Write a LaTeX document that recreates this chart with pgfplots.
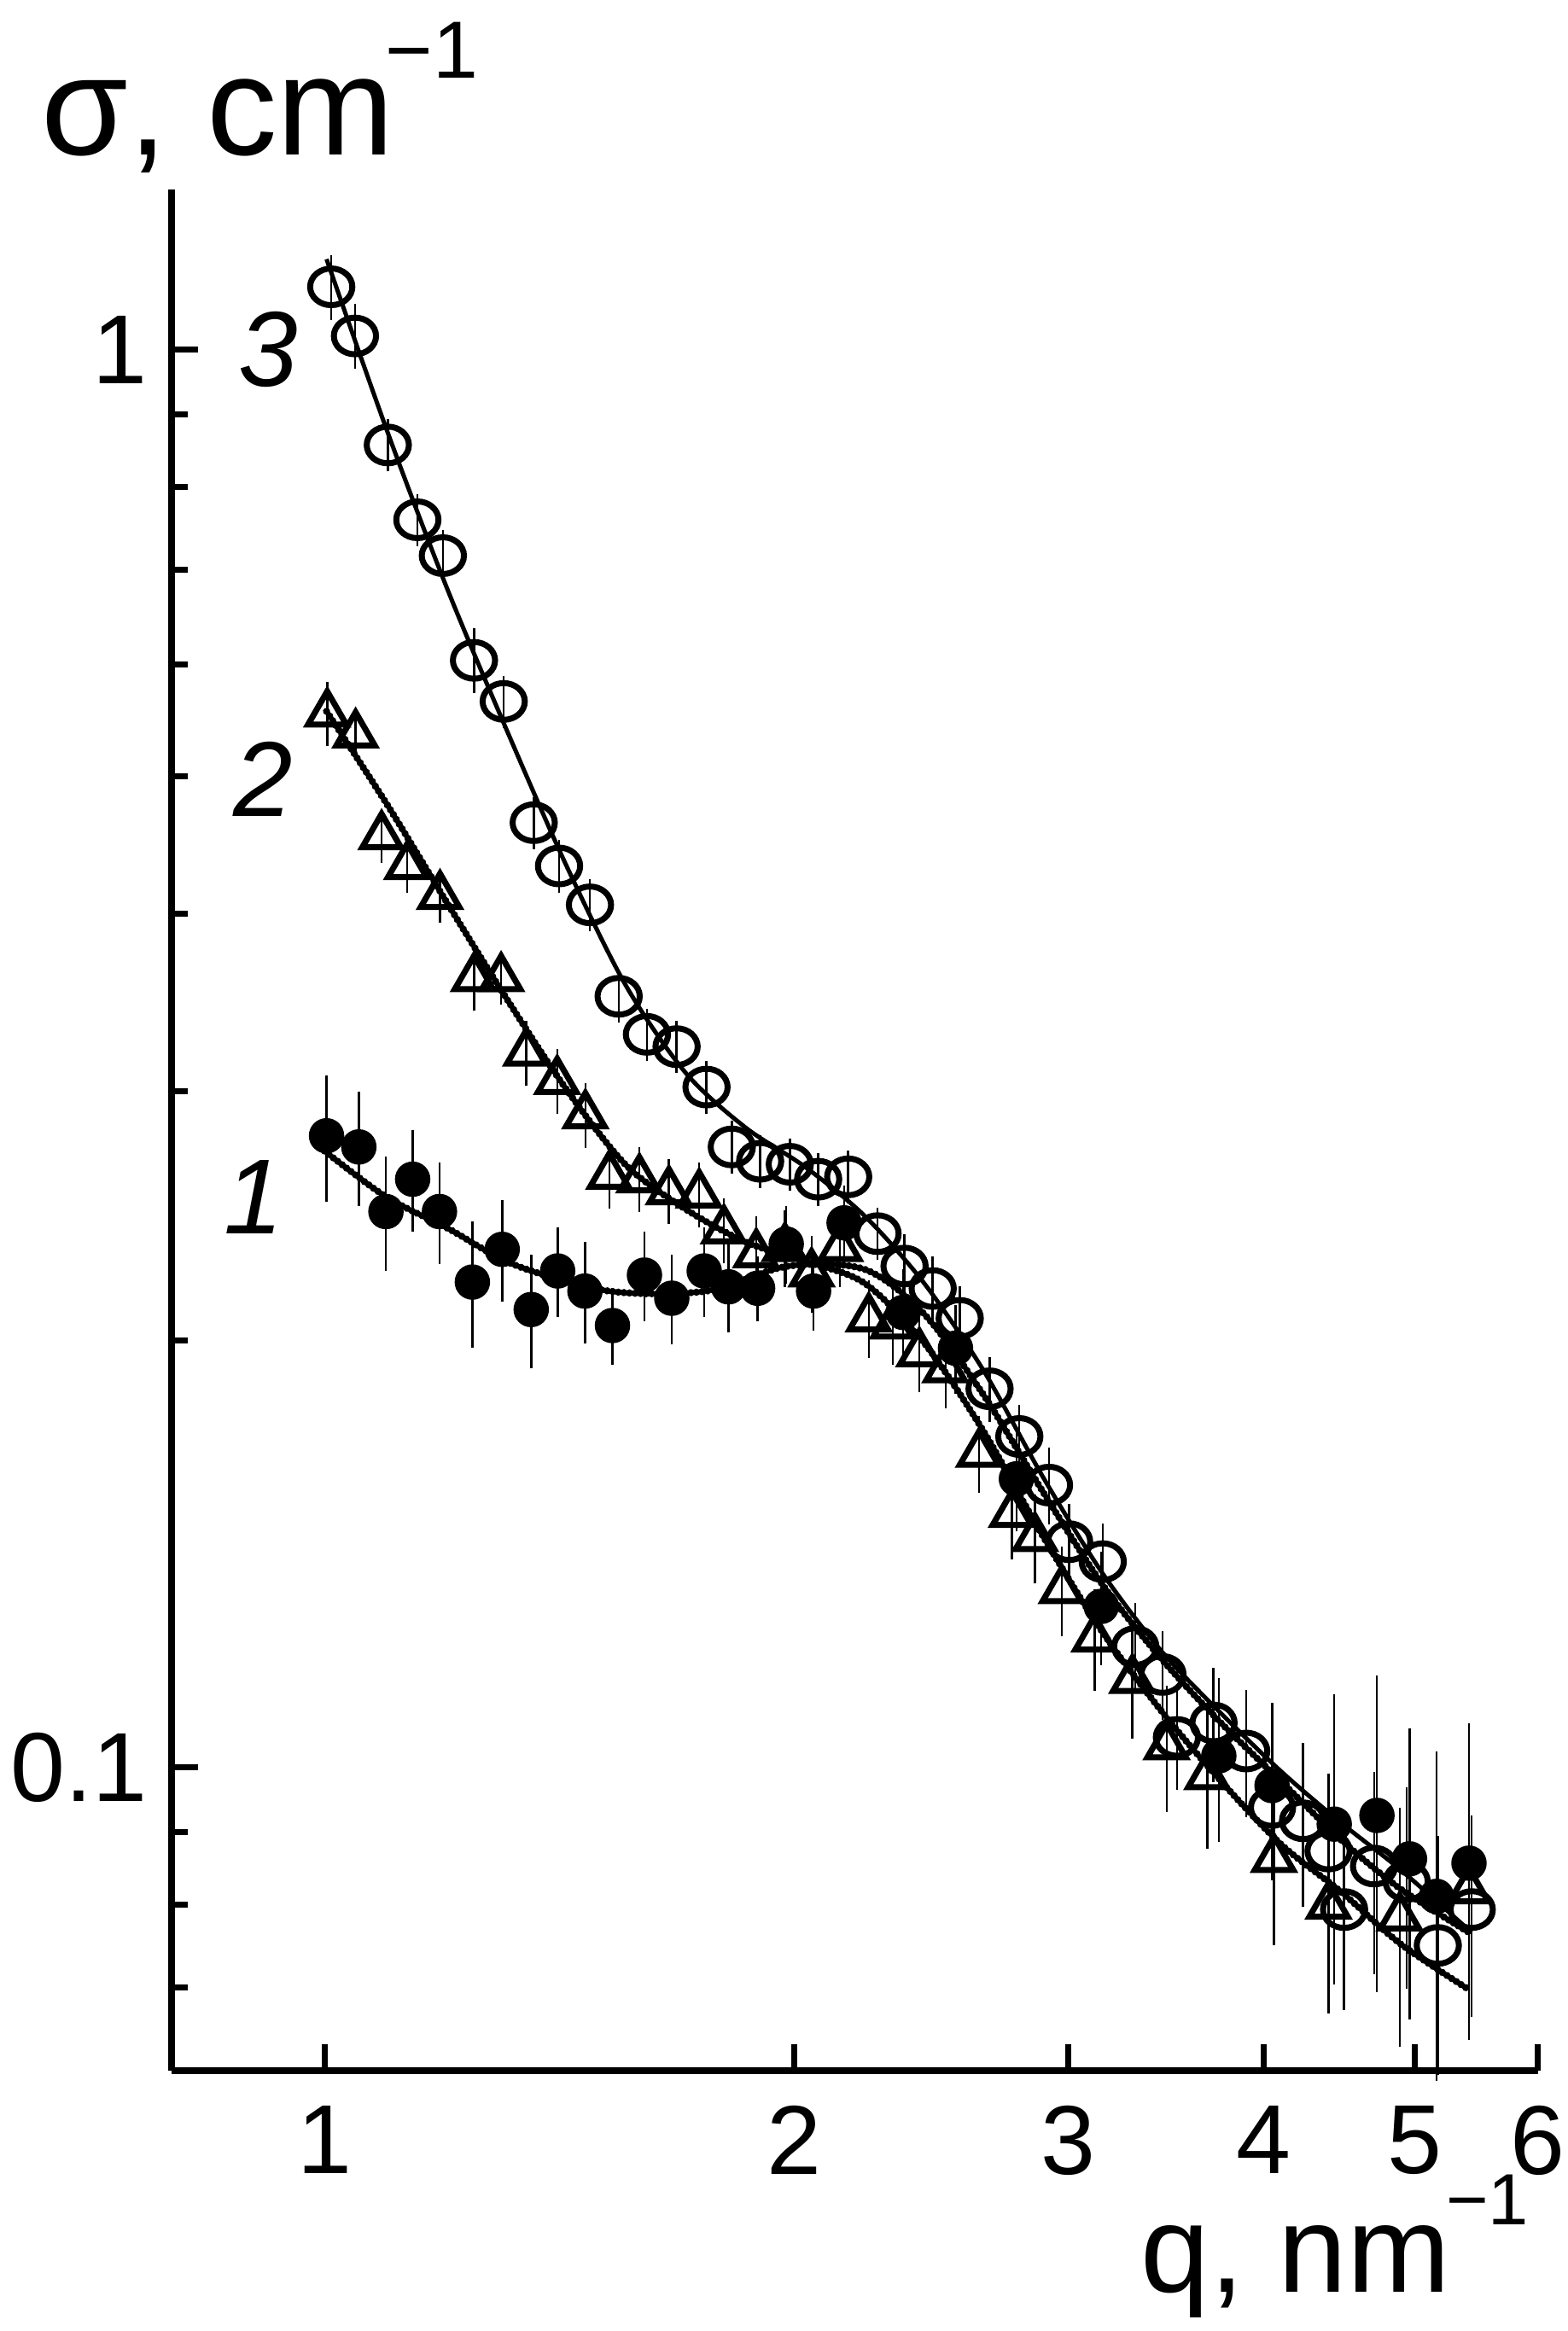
\documentclass[border=0pt]{standalone}
\usepackage{fontspec}
\setmainfont{Liberation Sans}
\setsansfont{Liberation Sans}
\usepackage{pgfplots}
\pgfplotsset{compat=1.18}

\newcommand{\fs}[1]{\fontsize{#1}{#1}\selectfont}

\begin{document}
\begin{tikzpicture}
\begin{axis}[
    at={(0,0)}, anchor=south west,
    scale only axis, width=320.2pt, height=440.8pt,
    xmode=log, ymode=log,
    xmin=0.798, xmax=6, ymin=0.0611, ymax=1.297,
    axis x line*=bottom, axis y line*=left,
    axis line style={line width=1.5pt},
    xtick={1,2,3,4,5,6},
    xticklabels={\mbox{1},\mbox{2},\mbox{3},\mbox{4},\mbox{5},\mbox{6}},
    ytick={0.1,1}, yticklabels={\mbox{0.1},\mbox{1}},
    minor xtick={},
    minor ytick={0.07,0.08,0.09,0.2,0.3,0.4,0.5,0.6,0.7,0.8,0.9},
    tick align=inside,
    major tick length=6.2pt, minor tick length=3.8pt,
    every tick/.style={line width=1.4pt, black},
    xticklabel style={font=\fs{23}, inner sep=0pt, anchor=north, yshift=-8pt},
    yticklabel style={font=\fs{23}, inner sep=0pt, anchor=east, xshift=-5.5pt},
    clip=false,
    error bars/error bar style={line width=0.5pt},
    error bars/error mark options={line width=0.5pt, mark size=1.8pt},
]
% 3: open circles
\addplot[only marks, mark=o, mark size=4.3pt,
    mark options={line width=1.4pt, xscale=1.15},
    error bars/.cd, y dir=both, y explicit relative] coordinates {
(1.010,1.108) +- (0,0.04) (1.046,1.023) +- (0,0.04) (1.098,0.857) +- (0,0.03)
(1.147,0.759) +- (0,0.03) (1.191,0.716) +- (0,0.03) (1.247,0.604) +- (0,0.04)
(1.303,0.565) +- (0,0.03) (1.362,0.464) +- (0,0.03) (1.414,0.4325) +- (0,0.03)
(1.480,0.406) +- (0,0.03) (1.544,0.350) +- (0,0.03) (1.610,0.329) +- (0,0.03)
(1.682,0.3225) +- (0,0.03) (1.758,0.302) +- (0,0.03) (1.825,0.274) +- (0,0.03)
(1.903,0.2677) +- (0,0.03) (1.988,0.2664) +- (0,0.03) (2.073,0.260) +- (0,0.03)
(2.167,0.261) +- (0,0.03) (2.263,0.238) +- (0,0.03) (2.355,0.2258) +- (0,0.04)
(2.455,0.2177) +- (0,0.04) (2.555,0.2074) +- (0,0.04) (2.670,0.1850) +- (0,0.04)
(2.790,0.1712) +- (0,0.04) (2.915,0.1582) +- (0,0.05) (3.003,0.1443) +- (0,0.05)
(3.156,0.1397) +- (0,0.05) (3.311,0.1217) +- (0,0.06) (3.447,0.1163) +- (0,0.06)
(3.521,0.1050) +- (0,0.07) (3.717,0.1075) +- (0,0.08) (3.901,0.1027) +- (0,0.09)
(4.052,0.0937) +- (0,0.10) (4.242,0.0917) +- (0,0.12) (4.405,0.0873) +- (0,0.12)
(4.507,0.0794) +- (0,0.14) (4.711,0.0852) +- (0,0.15) (4.943,0.0831) +- (0,0.15)
(5.176,0.0749) +- (0,0.18) (5.442,0.0794) +- (0,0.15)
};
% 2: open triangles
\addplot[only marks, mark=triangle, mark size=5.2pt,
    mark options={line width=1.4pt},
    error bars/.cd, y dir=both, y explicit relative] coordinates {
(1.004,0.554) +- (0,0.04) (1.047,0.5355) +- (0,0.03) (1.088,0.454) +- (0,0.03)
(1.130,0.4325) +- (0,0.03) (1.186,0.412) +- (0,0.03) (1.247,0.3605) +- (0,0.04)
(1.298,0.3605) +- (0,0.03) (1.347,0.3194) +- (0,0.04) (1.410,0.305) +- (0,0.04)
(1.470,0.2885) +- (0,0.04) (1.523,0.2615) +- (0,0.04) (1.592,0.260) +- (0,0.04)
(1.663,0.255) +- (0,0.04) (1.739,0.2537) +- (0,0.04) (1.804,0.2393) +- (0,0.04)
(1.892,0.2302) +- (0,0.05) (1.974,0.2325) +- (0,0.05) (2.053,0.2231) +- (0,0.05)
(2.141,0.2325) +- (0,0.05) (2.234,0.2074) +- (0,0.05) (2.314,0.205) +- (0,0.05)
(2.407,0.196) +- (0,0.05) (2.502,0.191) +- (0,0.05) (2.629,0.1665) +- (0,0.05)
(2.760,0.151) +- (0,0.06) (2.855,0.1452) +- (0,0.06) (2.971,0.1334) +- (0,0.06)
(3.118,0.1233) +- (0,0.07) (3.297,0.1153) +- (0,0.08) (3.468,0.1035) +- (0,0.09)
(3.684,0.0986) +- (0,0.10) (4.064,0.0862) +- (0,0.12) (4.405,0.0799) +- (0,0.15)
(4.893,0.0784) +- (0,0.18) (5.420,0.0819) +- (0,0.20)
};
% 1: filled circles
\addplot[only marks, mark=*, mark size=4pt,
    mark options={fill=black, line width=0.3pt},
    error bars/.cd, y dir=both, y explicit relative] coordinates {
(1.003,0.279) +- (0,0.09) (1.052,0.274) +- (0,0.08) (1.095,0.2467) +- (0,0.08)
(1.139,0.260) +- (0,0.07) (1.185,0.2467) +- (0,0.07) (1.244,0.220) +- (0,0.09)
(1.300,0.232) +- (0,0.07) (1.357,0.2104) +- (0,0.08) (1.411,0.224) +- (0,0.06)
(1.469,0.2168) +- (0,0.07) (1.530,0.205) +- (0,0.05) (1.604,0.2225) +- (0,0.06)
(1.670,0.2143) +- (0,0.06) (1.752,0.224) +- (0,0.06) (1.816,0.2183) +- (0,0.06)
(1.896,0.2178) +- (0,0.04) (1.978,0.234) +- (0,0.05) (2.059,0.2168) +- (0,0.05)
(2.154,0.2422) +- (0,0.05) (2.350,0.2094) +- (0,0.06) (2.539,0.1976) +- (0,0.06)
(2.778,0.1598) +- (0,0.07) (3.149,0.1299) +- (0,0.08) (3.746,0.1019) +- (0,0.12)
(4.052,0.0971) +- (0,0.13) (4.442,0.0912) +- (0,0.22) (4.731,0.0925) +- (0,0.24)
(4.964,0.0862) +- (0,0.22) (5.166,0.0811) +- (0,0.25) (5.420,0.0856) +- (0,0.24)
};
% fitted curves
\addplot[smooth, line width=1pt] coordinates {
(1.003,1.159) (1.098,0.874) (1.199,0.678) (1.310,0.538) (1.429,0.433)
(1.561,0.356) (1.705,0.309) (1.862,0.2828) (2.033,0.2653) (2.220,0.245)
(2.424,0.2196) (2.647,0.1905) (2.890,0.1602) (3.156,0.1370) (3.446,0.1206)
(3.761,0.1091) (4.109,0.0993) (4.487,0.0914) (4.898,0.0847) (5.44,0.0765)
};
\addplot[smooth, line width=1.7pt, line cap=round, dash pattern=on 0.01pt off 1.3pt] coordinates {
(1.003,0.556) (1.098,0.477) (1.199,0.407) (1.310,0.348) (1.429,0.301)
(1.561,0.266) (1.705,0.2476) (1.862,0.2348) (2.033,0.2276) (2.220,0.2196)
(2.424,0.1993) (2.647,0.1726) (2.890,0.1455) (3.156,0.1245) (3.446,0.1094)
(3.761,0.0977) (4.109,0.0882) (4.487,0.0817) (4.898,0.0751) (5.42,0.0697)
};
\addplot[smooth, line width=1.7pt, line cap=round, dash pattern=on 0.01pt off 1.3pt] coordinates {
(1.000,0.2722) (1.095,0.2527) (1.201,0.2399) (1.323,0.2263) (1.522,0.2168)
(1.758,0.2168) (1.980,0.2257) (2.220,0.2246) (2.424,0.2089) (2.647,0.1831)
(2.890,0.1564) (3.156,0.1345) (3.446,0.1191) (3.761,0.1074) (4.109,0.0977)
(4.487,0.0889) (4.898,0.0821) (5.44,0.0763)
};
\end{axis}
% axis titles and curve numbers
\node[anchor=base west, inner sep=0pt, font=\fs{33}] at (-30.6pt,448.9pt) {σ, cm};
\node[anchor=base west, inner sep=0pt, font=\fs{19}] at (50pt,466.9pt) {−1};
\node[anchor=base west, inner sep=0pt, font=\fs{29}] at (227pt,-51.8pt) {q, nm};
\node[anchor=base west, inner sep=0pt, font=\fs{17}] at (298.5pt,-36pt) {−1};
\node[inner sep=0pt, font=\fs{25}\itshape] at (22.6pt,403.4pt) {3};
\node[inner sep=0pt, font=\fs{25}\itshape] at (21.4pt,302.7pt) {2};
\node[inner sep=0pt, font=\fs{25}\itshape] at (19.2pt,204.8pt) {1};
\pgfresetboundingbox
\path[use as bounding box] (-40.2pt,-61pt) rectangle (327.2pt,485.3pt);
\end{tikzpicture}
\end{document}
